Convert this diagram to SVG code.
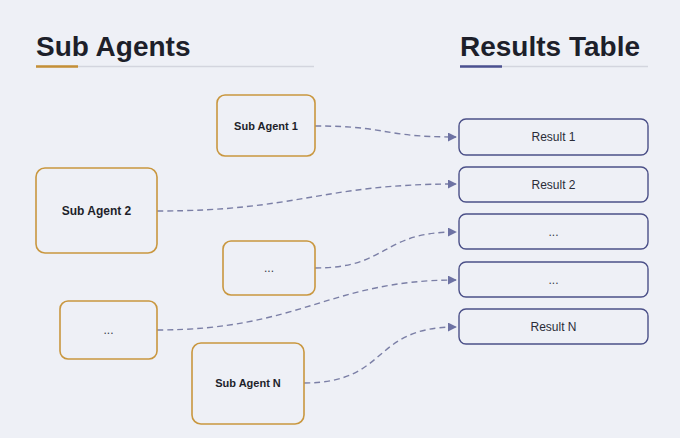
<svg xmlns="http://www.w3.org/2000/svg" width="680" height="438" viewBox="0 0 680 438">
<defs>
<style>
.title{font-family:"Liberation Sans",Arial,sans-serif;font-weight:bold;font-size:28px;fill:#1d1f2a}
.agent rect{fill:#eef0f6;stroke:#c9973f;stroke-width:1.6}
.result rect{fill:#eef0f6;stroke:#4b5088;stroke-width:1.4}
.lbl{font-family:"Liberation Sans",Arial,sans-serif;font-size:11px;font-weight:bold;fill:#1d1f2a;text-anchor:middle}
.rlbl{font-family:"Liberation Sans",Arial,sans-serif;font-size:12px;fill:#2a2c38;text-anchor:middle}
.dots{font-family:"Liberation Sans",Arial,sans-serif;font-size:12px;fill:#3a3c48;text-anchor:middle}
.conn path{fill:none;stroke:#7b7fa6;stroke-width:1.4;stroke-dasharray:6 4;marker-end:url(#arr)}
</style>
<marker id="arr" viewBox="0 0 10 10" refX="9" refY="5" markerWidth="9" markerHeight="9" markerUnits="userSpaceOnUse" orient="auto">
<path d="M0,0 L10,5 L0,10 z" fill="#6d72a3"/>
</marker>
</defs>
<rect x="0" y="0" width="680" height="438" fill="#eef0f6"/>
<g id="header-left">
<text class="title" x="36" y="56">Sub Agents</text>
<line x1="36" y1="66.5" x2="314" y2="66.5" stroke="#d3d5de" stroke-width="1.5"/>
<line x1="36" y1="66.5" x2="78" y2="66.5" stroke="#c58f36" stroke-width="2.5"/>
</g>
<g id="header-right">
<text class="title" x="460" y="56">Results Table</text>
<line x1="460" y1="66.5" x2="648" y2="66.5" stroke="#d3d5de" stroke-width="1.5"/>
<line x1="460" y1="66.5" x2="502" y2="66.5" stroke="#4b5090" stroke-width="2.5"/>
</g>
<g id="connectors" class="conn">
<path d="M315,126 C390,126 380,137 456,137"/>
<path d="M157,211 C300,211 320,184 456,184"/>
<path d="M315,268 C390,268 380,232 456,232"/>
<path d="M157,330 C300,330 330,280 456,280"/>
<path d="M304,383 C390,383 370,327 456,327"/>
</g>
<g id="agent1" class="agent">
<rect x="217" y="95" width="98" height="61" rx="8"/>
<text class="lbl" x="266" y="130">Sub Agent 1</text>
</g>
<g id="agent2" class="agent">
<rect x="36" y="168" width="121" height="85" rx="9"/>
<text class="lbl" x="96.5" y="215" style="font-size:12px">Sub Agent 2</text>
</g>
<g id="agent-dots1" class="agent">
<rect x="223" y="241" width="92" height="54" rx="8"/>
<text class="dots" x="269" y="272">...</text>
</g>
<g id="agent-dots2" class="agent">
<rect x="60" y="301" width="97" height="58" rx="8"/>
<text class="dots" x="108.5" y="334">...</text>
</g>
<g id="agentN" class="agent">
<rect x="192" y="343" width="112" height="81" rx="9"/>
<text class="lbl" x="248" y="387">Sub Agent N</text>
</g>
<g id="result1" class="result">
<rect x="459" y="119" width="189" height="36" rx="7"/>
<text class="rlbl" x="553.5" y="141">Result 1</text>
</g>
<g id="result2" class="result">
<rect x="459" y="167" width="189" height="35" rx="7"/>
<text class="rlbl" x="553.5" y="189">Result 2</text>
</g>
<g id="result3" class="result">
<rect x="459" y="214" width="189" height="35" rx="7"/>
<text class="dots" x="553.5" y="236">...</text>
</g>
<g id="result4" class="result">
<rect x="459" y="262" width="189" height="35" rx="7"/>
<text class="dots" x="553.5" y="284">...</text>
</g>
<g id="resultN" class="result">
<rect x="459" y="309" width="189" height="35" rx="7"/>
<text class="rlbl" x="553.5" y="331">Result N</text>
</g>
</svg>
